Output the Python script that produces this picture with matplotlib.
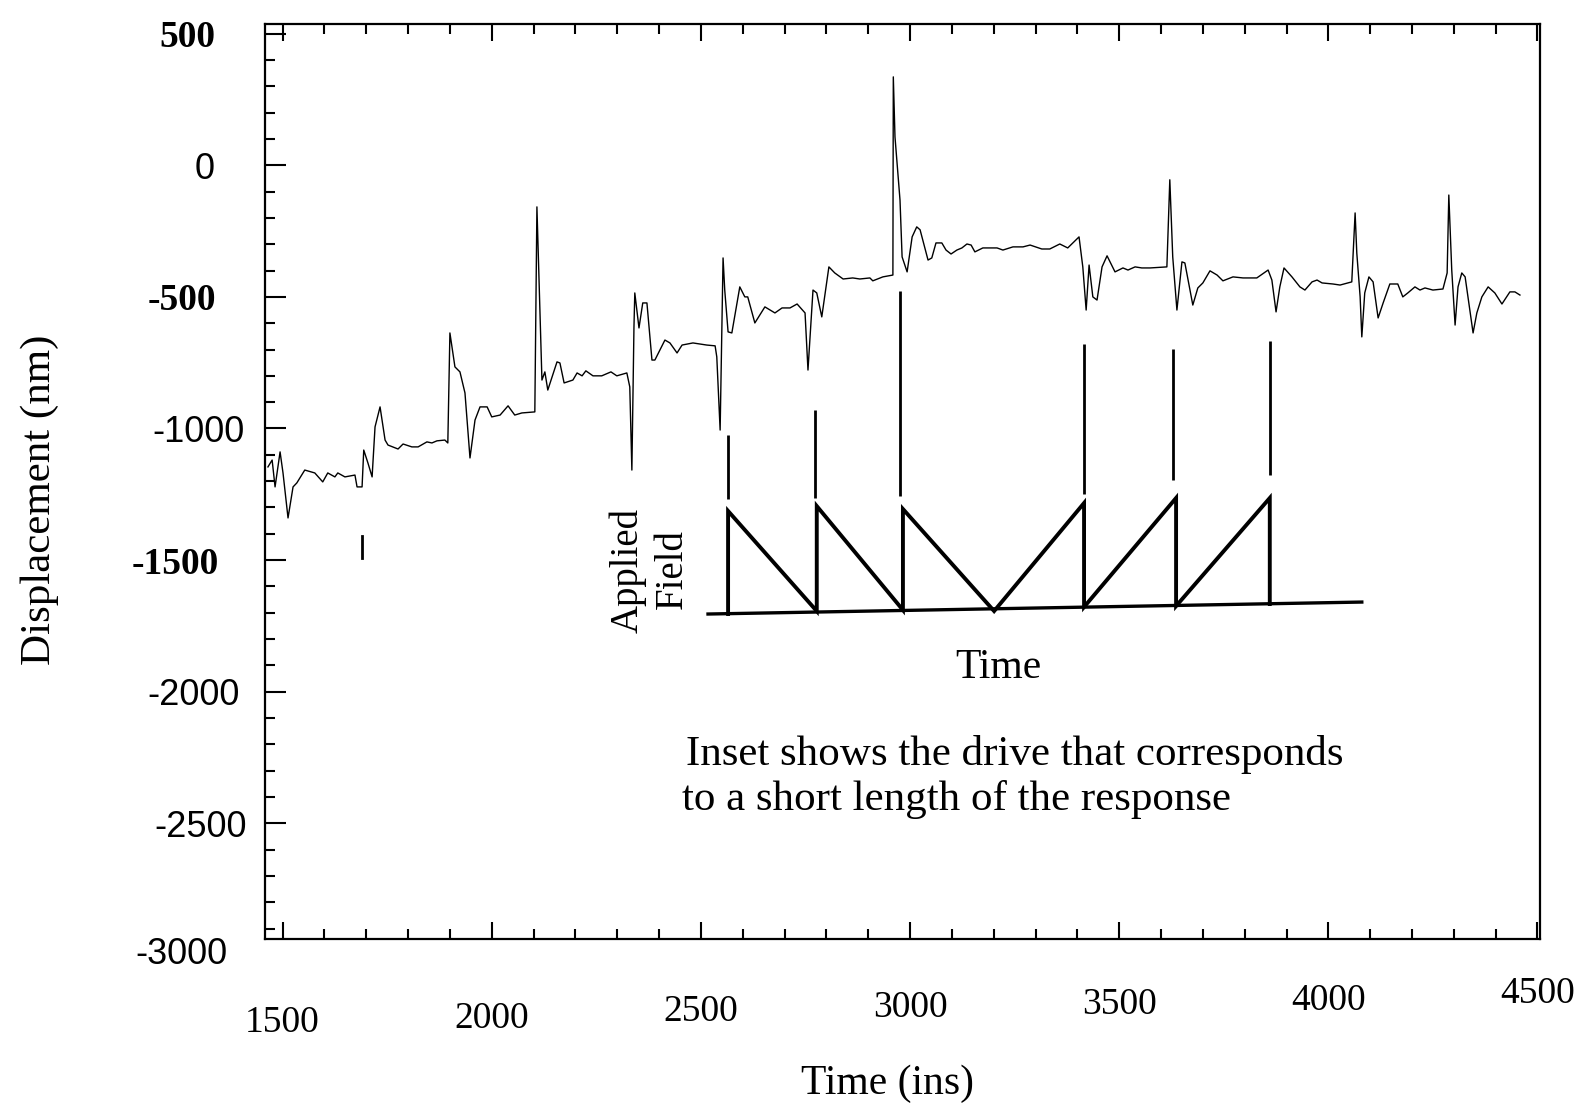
import matplotlib
matplotlib.use('Agg')
import matplotlib.pyplot as plt
from matplotlib.ticker import MultipleLocator
from matplotlib.transforms import ScaledTranslation

# ---- response trace (time in "ins", displacement in nm) ----
time_ins = [1465, 1475, 1482, 1494, 1501, 1513, 1525, 1534, 1553, 1577, 1596, 1608, 1625, 1632,
            1649, 1673, 1678, 1690, 1694, 1704, 1714, 1721, 1733, 1745, 1752, 1776, 1788, 1809,
            1824, 1845, 1857, 1869, 1888, 1895, 1900, 1912, 1924, 1936, 1948, 1960, 1972, 1989,
            2000, 2020, 2039, 2055, 2072, 2103, 2108, 2120, 2127, 2134, 2156, 2163, 2173, 2194,
            2204, 2216, 2225, 2242, 2263, 2285, 2299, 2323, 2330, 2335, 2340, 2342, 2352, 2361,
            2371, 2383, 2390, 2414, 2426, 2443, 2455, 2481, 2514, 2534, 2538, 2546, 2553, 2557,
            2565, 2574, 2593, 2605, 2612, 2629, 2653, 2677, 2694, 2713, 2730, 2749, 2756, 2768,
            2777, 2789, 2806, 2820, 2840, 2863, 2880, 2904, 2911, 2935, 2959, 2960, 2964, 2976,
            2981, 2993, 3005, 3016, 3024, 3043, 3052, 3062, 3076, 3086, 3098, 3112, 3124, 3136,
            3146, 3155, 3174, 3208, 3222, 3246, 3270, 3287, 3315, 3334, 3358, 3377, 3404, 3413,
            3421, 3428, 3437, 3447, 3459, 3471, 3490, 3509, 3521, 3538, 3554, 3574, 3614, 3621,
            3628, 3638, 3650, 3657, 3676, 3688, 3700, 3717, 3734, 3748, 3772, 3796, 3829, 3856,
            3865, 3875, 3884, 3894, 3913, 3932, 3944, 3961, 3973, 3985, 4011, 4028, 4056, 4064,
            4068, 4076, 4080, 4087, 4097, 4107, 4119, 4131, 4147, 4166, 4178, 4190, 4207, 4219,
            4231, 4250, 4274, 4284, 4288, 4295, 4303, 4310, 4319, 4327, 4346, 4355, 4367, 4382,
            4398, 4415, 4434, 4446, 4458]
displacement_nm = [-1146, -1120, -1222, -1089, -1169, -1340, -1222, -1207, -1158, -1169, -1203, -1169,
                   -1184, -1169, -1184, -1177, -1222, -1222, -1082, -1131, -1184, -994, -918, -1044,
                   -1063, -1078, -1059, -1070, -1070, -1051, -1055, -1047, -1044, -1055, -637, -766,
                   -785, -865, -1112, -968, -918, -918, -956, -949, -914, -949, -941, -937, -158,
                   -816, -785, -854, -747, -751, -827, -816, -789, -800, -781, -800, -800, -785, -800,
                   -789, -842, -1158, -614, -485, -618, -523, -523, -740, -740, -664, -675, -713,
                   -683, -675, -683, -686, -728, -1006, -352, -474, -633, -637, -462, -500, -500,
                   -599, -538, -561, -542, -542, -527, -561, -778, -474, -485, -576, -386, -409,
                   -432, -428, -432, -428, -439, -424, -417, 336, 108, -132, -348, -405, -272, -234,
                   -245, -360, -352, -295, -295, -322, -337, -322, -314, -299, -303, -329, -314,
                   -314, -322, -310, -310, -303, -318, -318, -299, -314, -272, -386, -550, -379,
                   -500, -512, -386, -344, -405, -390, -398, -386, -390, -390, -386, -55, -348,
                   -550, -367, -371, -531, -466, -447, -401, -417, -439, -424, -428, -428, -398,
                   -436, -557, -462, -390, -424, -462, -474, -443, -436, -447, -451, -455, -443,
                   -181, -333, -500, -652, -485, -424, -443, -580, -523, -451, -451, -500, -485,
                   -462, -474, -466, -474, -470, -409, -113, -398, -607, -462, -409, -424, -637,
                   -561, -500, -462, -485, -527, -481, -481, -493]
dash_time = [1690, 1690]
dash_nm = [-1409, -1492]

# ---- inset: applied field drive (relative units) ----
drive_time = [2565, 2565, 2777, 2777, 2983, 2983, 3201, 3416, 3416, 3636, 3636, 3860, 3860]
drive_field = [-0.038, 0.943, -0.01, 0.99, 0.0, 0.962, -0.01, 1.019, 0.029, 1.067, 0.038, 1.067, 0.057]
baseline_time = [2517, 4080]
baseline_field = [-0.038, 0.076]
marker_time = [2565, 2773, 2976, 3416, 3628, 3860]
marker_low = [1.057, 1.067, 1.086, 1.105, 1.238, 1.286]
marker_high = [1.667, 1.905, 3.038, 2.533, 2.486, 2.562]

# ---- ticks ----
ytick_values = [500, 0, -500, -1000, -1500, -2000, -2500]
ytick_labels = ['500', '0', '-500', '-1000', '-1500', '-2000', '-2500']
bold_labels = ['500', '-500', '-1500']
xtick_values = [1500, 2000, 2500, 3000, 3500, 4000, 4500]
xtick_labels = ['1500', '2000', '2500', '3000', '3500', '4000', '4500']

SERIF = ['Liberation Serif', 'DejaVu Serif']
SANS = ['Liberation Sans', 'DejaVu Sans']

fig = plt.figure(figsize=(15.86, 11.05), dpi=100)
ax = fig.add_axes([0.1671, 0.1502, 0.8039, 0.8281])
ax.set_xlim(1458, 4506)
ax.set_ylim(-2940, 537)

ax.plot(time_ins, displacement_nm, color='black', lw=1.0)
ax.plot(dash_time, dash_nm, color='black', lw=2.0)

for s in ax.spines.values():
    s.set_linewidth(1.6)

ax.set_yticks(ytick_values)
ax.set_yticklabels(ytick_labels)
ax.yaxis.set_minor_locator(MultipleLocator(100))
ax.set_xticks(xtick_values)
ax.set_xticklabels(xtick_labels)
ax.xaxis.set_minor_locator(MultipleLocator(100))

ax.tick_params(axis='y', which='both', direction='in', left=True, right=True, width=1.5, pad=22)
ax.tick_params(axis='y', which='major', length=15)
ax.tick_params(axis='y', which='minor', length=7)
ax.tick_params(axis='x', which='both', direction='in', top=True, bottom=True, width=1.5, pad=38)
ax.tick_params(axis='x', which='major', length=12)
ax.tick_params(axis='x', which='minor', length=7)

# per-label horizontal nudges (points) mimicking the pasted-up original
y_label_shift_pt = [-14, -14, -13, 7, -11, 4, 9]
for lab, dx in zip(ax.get_yticklabels(), y_label_shift_pt):
    if lab.get_text() in bold_labels:
        lab.set_family(SERIF)
        lab.set_fontweight('bold')
        lab.set_fontsize(27)
    else:
        lab.set_family(SANS)
        lab.set_fontsize(26)
    lab.set_transform(lab.get_transform() + ScaledTranslation(dx / 72, 0, fig.dpi_scale_trans))

x_label_shift_pt = [-10, -7, -2, 1, 3, 6, 11]
for lab, dy in zip(ax.get_xticklabels(), x_label_shift_pt):
    lab.set_family(SERIF)
    lab.set_fontsize(27)
    lab.set_transform(lab.get_transform() + ScaledTranslation(0, dy / 72, fig.dpi_scale_trans))

ax.text(-0.0298, -3000, '-3000', transform=ax.get_yaxis_transform(), ha='right', va='center',
        family=SANS, fontsize=26, clip_on=False)

# inset drawn on a twin axis sharing the time scale
ax2 = ax.twinx()
ax2.set_ylim(-3.133, 5.581)
ax2.axis('off')
ax2.plot(drive_time, drive_field, color='black', lw=2.8, solid_joinstyle='miter')
ax2.plot(baseline_time, baseline_field, color='black', lw=2.4)
ax2.vlines(marker_time, marker_low, marker_high, color='black', lw=2.0)

# texts
fig.text(0.0252, 0.5475, 'Displacement (nm)', rotation=90, ha='center', va='center',
         family=SERIF, fontsize=31)
fig.text(0.5593, 0.019, 'Time (ins)', ha='center', va='center', family=SERIF, fontsize=30)
fig.text(0.6293, 0.3955, 'Time', ha='center', va='center', family=SERIF, fontsize=30)
fig.text(0.3960, 0.4833, 'Applied', rotation=90, ha='center', va='center', family=SERIF, fontsize=28)
fig.text(0.4240, 0.4851, 'Field', rotation=90, ha='center', va='center', family=SERIF, fontsize=28)
fig.text(0.4325, 0.3176, 'Inset shows the drive that corresponds', ha='left', va='center',
         family=SERIF, fontsize=31)
fig.text(0.4300, 0.2769, 'to a short length of the response', ha='left', va='center',
         family=SERIF, fontsize=31)

fig.savefig('out.png', dpi=100)
